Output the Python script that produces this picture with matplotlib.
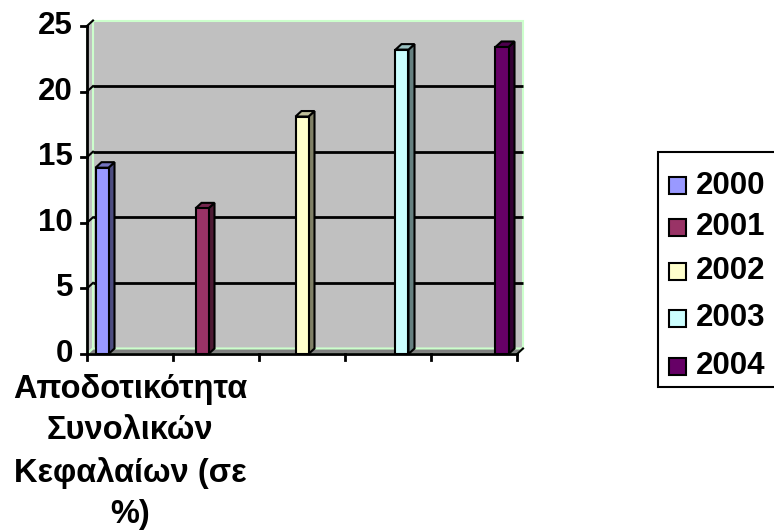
import matplotlib
matplotlib.use("Agg")
import matplotlib.pyplot as plt
from matplotlib.patches import Rectangle, Polygon
from matplotlib.colors import to_rgb

plt.rcParams['font.family'] = ['Liberation Sans', 'DejaVu Sans']
plt.rcParams['font.weight'] = 'bold'

# data
years = ['2000', '2001', '2002', '2003', '2004']
values = [14.2, 11.1, 18.1, 23.2, 23.4]
colors = ['#9999FF', '#993366', '#FFFFCC', '#CCFFFF', '#660066']
category = 'Αποδοτικότητα\nΣυνολικών\nΚεφαλαίων (σε\n%)'
yticks = [0, 5, 10, 15, 20, 25]

W, H = 774, 531
fig = plt.figure(figsize=(W / 100, H / 100), dpi=100)

# plot area in pixels
x0, x1, ytop, ybot = 87, 517, 26, 354
ax = fig.add_axes([x0 / W, 1 - ybot / H, (x1 - x0) / W, (ybot - ytop) / H])
xmin, xmax = -0.15, 4.15
ax.set_xlim(xmin, xmax)
ax.set_ylim(0, 25)
ax.axis('off')

# 3d depth offsets (data units)
dx = 6 * (xmax - xmin) / (x1 - x0)
dy = 5.5 * 25 / (ybot - ytop)

def shade(c, f):
    r, g, b = to_rgb(c)
    return (r * f, g * f, b * f)

wall_edge = '#CCFFCC'
# back wall
ax.add_patch(Rectangle((xmin + dx, dy), xmax - xmin, 25, facecolor='#C0C0C0',
                       edgecolor=wall_edge, lw=1.5, clip_on=False, zorder=1))
# side wall
ax.add_patch(Polygon([(xmin, 0), (xmin + dx, dy), (xmin + dx, 25 + dy), (xmin, 25)],
                     closed=True, facecolor='#C0C0C0', edgecolor=wall_edge, lw=1.5,
                     clip_on=False, zorder=1))
# floor
ax.add_patch(Polygon([(xmin, 0), (xmax, 0), (xmax + dx, dy), (xmin + dx, dy)],
                     closed=True, facecolor='#808080', edgecolor=wall_edge, lw=1.5,
                     clip_on=False, zorder=1))

# gridlines on back wall + diagonals on side wall
for v in yticks[1:-1]:
    ax.plot([xmin + dx, xmax + dx], [v + dy, v + dy], color='black', lw=2,
            clip_on=False, zorder=2, solid_capstyle='butt')
for v in yticks[1:]:
    ax.plot([xmin, xmin + dx], [v, v + dy], color='black', lw=1.5,
            clip_on=False, zorder=2)

# axis lines and ticks
ax.plot([xmin, xmin], [0, 25], color='black', lw=2, clip_on=False, zorder=3)
ax.plot([xmin, xmax], [0, 0], color='black', lw=2, clip_on=False, zorder=3)
tx = 6 * (xmax - xmin) / (x1 - x0)
ty = 6 * 25 / (ybot - ytop)
for v in yticks:
    ax.plot([xmin - tx, xmin], [v, v], color='black', lw=2, clip_on=False, zorder=3)
    ax.text(xmin - tx - 0.08, v, str(v), ha='right', va='center', fontsize=22.5,
            fontweight='bold')
step = (xmax - xmin) / 5
for k in range(6):
    xt = xmin + k * step
    ax.plot([xt, xt], [0, -ty], color='black', lw=2, clip_on=False, zorder=3)
# last tick has a small diagonal to the floor corner
ax.plot([xmax, xmax + dx], [0, dy], color='black', lw=1.5, clip_on=False, zorder=3)

# bars
bw = 0.13
for i, (v, c) in enumerate(zip(values, colors)):
    left = i - bw / 2
    right = i + bw / 2
    ax.add_patch(Polygon([(right, 0), (right + dx, dy), (right + dx, v + dy), (right, v)],
                         closed=True, facecolor=shade(c, 0.5), edgecolor='black',
                         lw=1.5, clip_on=False, zorder=4))
    ax.add_patch(Polygon([(left, v), (right, v), (right + dx, v + dy), (left + dx, v + dy)],
                         closed=True, facecolor=shade(c, 0.75), edgecolor='black',
                         lw=1.5, clip_on=False, zorder=4))
    ax.add_patch(Rectangle((left, 0), bw, v, facecolor=c, edgecolor='black',
                           lw=1.5, clip_on=False, zorder=5))

# category label
fig.text(130 / W, 1 - 374 / H, category, ha='center', va='top', fontsize=23.5,
         fontweight='bold', linespacing=1.42)

# legend drawn by hand
fig.patches.append(Rectangle((658 / W, 1 - 387 / H), 140 / W, (387 - 152) / H,
                             transform=fig.transFigure, facecolor='white',
                             edgecolor='black', lw=1.5))
rows = [186, 227, 271, 318, 366]
for yr, c, yc in zip(years, colors, rows):
    fig.patches.append(Rectangle((669 / W, 1 - (yc + 8.5) / H), 17 / W, 17 / H,
                                 transform=fig.transFigure, facecolor=c,
                                 edgecolor='black', lw=1.5))
    fig.text(696 / W, 1 - yc / H, yr, ha='left', va='center', fontsize=22.5,
             fontweight='bold')

fig.savefig('out.png', dpi=100)
